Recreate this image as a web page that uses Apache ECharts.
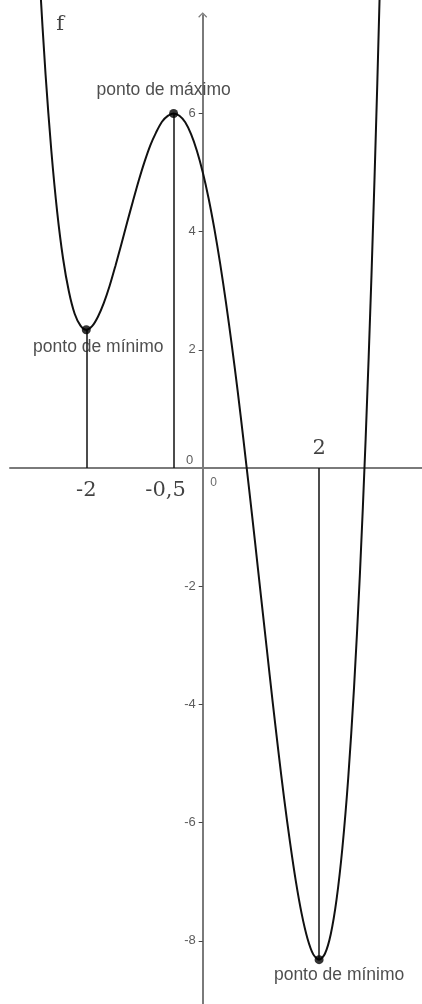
<!DOCTYPE html>
<html>
<head>
<meta charset="utf-8">
<script src="https://cdn.jsdelivr.net/npm/echarts@6/dist/echarts.min.js"></script>
<style>
html,body{margin:0;padding:0;background:#fff;}
#chart{width:422px;height:1004px;}
</style>
</head>
<body>
<div id="chart"></div>
<script>
// Curve f(x)
const curveX = [-2.9, -2.8, -2.7, -2.6, -2.5, -2.4, -2.3, -2.2, -2.1, -2.0, -1.9, -1.8, -1.7, -1.6, -1.5, -1.4, -1.3, -1.2, -1.1, -1.0,
  -0.9, -0.8, -0.7, -0.6, -0.5, -0.4, -0.3, -0.2, -0.1, 0, 0.1, 0.2, 0.3, 0.4, 0.5, 0.6, 0.7, 0.8, 0.9, 1.0,
  1.1, 1.2, 1.3, 1.4, 1.5, 1.6, 1.7, 1.8, 1.9, 2.0, 2.1, 2.2, 2.3, 2.4, 2.5, 2.6, 2.7, 2.8, 2.9, 3.0, 3.1];
const curveY = [10.20, 8.27, 6.66, 5.36, 4.33, 3.55, 2.99, 2.61, 2.41, 2.34, 2.40, 2.56, 2.79, 3.08, 3.42, 3.78, 4.15, 4.51, 4.86, 5.18,
  5.46, 5.68, 5.86, 5.96, 6.00, 5.96, 5.85, 5.65, 5.37, 5.01, 4.57, 4.05, 3.46, 2.80, 2.08, 1.31, 0.48, -0.38, -1.26, -2.16,
  -3.05, -3.94, -4.79, -5.60, -6.33, -6.99, -7.54, -7.96, -8.23, -8.32, -8.22, -7.89, -7.30, -6.43, -5.25, -3.72, -1.82, 0.50, 3.26, 6.51, 10.28];

// Critical points
const extremaX = [-2, -0.5, 2];
const extremaY = [2.34, 6.00, -8.32];
const extremaLabels = ['ponto de mínimo', 'ponto de máximo', 'ponto de mínimo'];

// Special x labels
const xMarkValues = [-2, -0.5, 2];
const xMarkLabels = ['-2', '-0,5', '2'];

// Y tick values / labels
const yTicks = [-8, -6, -4, -2, 2, 4, 6];
const yTickLabels = ['-8', '-6', '-4', '-2', '2', '4', '6'];

const curveData = curveX.map((x, i) => [x, curveY[i]]);
const SANS = 'Liberation Sans, Arial, sans-serif';
const SERIF = 'DejaVu Serif, serif';

const labelOffsets = [[12, 17], [-10, -23], [20, 15]];
const extremaData = extremaX.map((x, i) => ({
  value: [x, extremaY[i]],
  label: {
    show: true, position: 'inside', offset: labelOffsets[i],
    formatter: extremaLabels[i],
    fontFamily: SANS, fontSize: 17.5, color: '#222'
  }
}));

const markOffsets = [[0, 23], [-8, 23], [0, -19]];
const xMarkData = xMarkValues.map((x, i) => ({
  value: [x, 0],
  label: {
    show: true, position: 'inside', offset: markOffsets[i],
    formatter: xMarkLabels[i],
    fontFamily: SERIF, fontSize: 21, color: '#111'
  }
}));

const yLabelData = yTicks.map((v, i) => ({
  value: [0, v],
  label: { show: true, position: 'left', distance: 7, formatter: yTickLabels[i], fontFamily: SANS, fontSize: 13, color: '#333' }
}));

const extraText = [
  { value: [0, 0], label: { show: true, position: 'inside', offset: [-13, -8], formatter: '0', fontFamily: SANS, fontSize: 13, color: '#333' } },
  { value: [0, 0], label: { show: true, position: 'inside', offset: [11, 15], formatter: '0', fontFamily: SANS, fontSize: 12, color: '#444' } },
  { value: [-2.45, 7.51], label: { show: true, position: 'inside', formatter: 'f', fontFamily: SERIF, fontSize: 21, color: '#111' } }
];

const chart = echarts.init(document.getElementById('chart'), null, { renderer: 'canvas' });
chart.setOption({
  animation: false,
  backgroundColor: '#fff',
  grid: { left: 10, right: 0, top: 15, bottom: 0, containLabel: false, outerBoundsMode: 'none' },
  xAxis: {
    type: 'value', min: -3.311, max: 3.768,
    axisLine: { show: true, onZero: true, lineStyle: { color: '#7a7a7a', width: 2 } },
    axisTick: { show: false }, axisLabel: { show: false }, splitLine: { show: false }
  },
  yAxis: {
    type: 'value', min: -9.07, max: 7.666,
    axisLine: { show: true, onZero: true, symbol: ['none', 'path://M0,5 L5,0 L10,5 L9,6 L5,1.6 L1,6 Z'], symbolSize: [9, 6], lineStyle: { color: '#7a7a7a', width: 2 } },
    axisTick: { show: true, length: 4, customValues: yTicks, lineStyle: { color: '#444', width: 1 } },
    axisLabel: { show: false },
    splitLine: { show: false }
  },
  series: [
    {
      type: 'line', data: curveData, smooth: 0.3, showSymbol: false, clip: false,
      lineStyle: { color: '#111', width: 2 },
      markLine: {
        silent: true, symbol: ['none', 'none'], label: { show: false },
        lineStyle: { color: '#111', width: 1.5, type: 'solid' },
        data: extremaX.map((x, i) => [{ coord: [x, 0] }, { coord: [x, extremaY[i]] }])
      }
    },
    {
      type: 'scatter', data: extremaData, symbolSize: 9, clip: false,
      itemStyle: { color: '#000' }, z: 5
    },
    {
      type: 'scatter', data: xMarkData.concat(extraText, yLabelData), symbolSize: 0, clip: false, z: 6
    }
  ]
});
</script>
</body>
</html>
